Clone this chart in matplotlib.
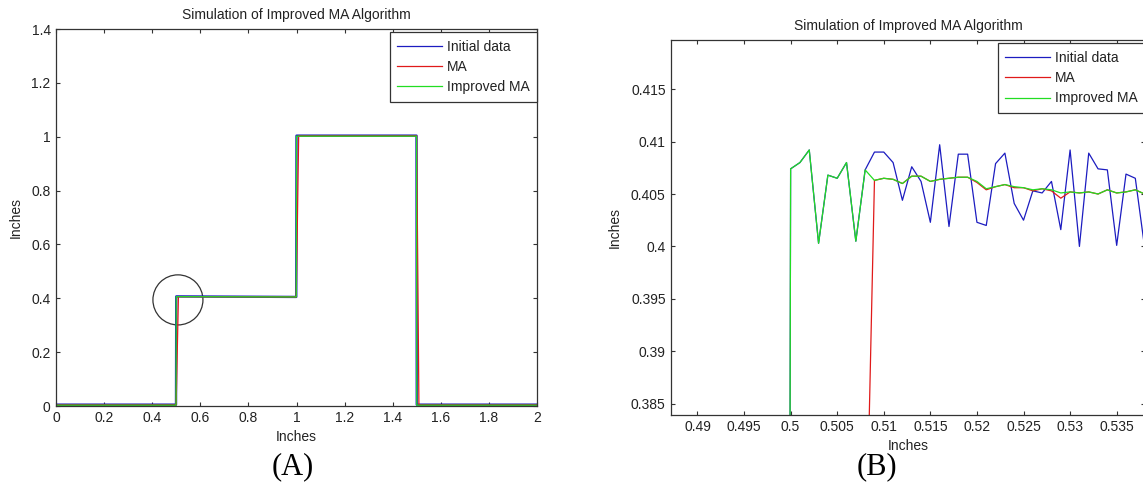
import numpy as np
import matplotlib
matplotlib.use("Agg")
import matplotlib.pyplot as plt
from matplotlib.patches import Ellipse
from matplotlib.lines import Line2D

plt.rcParams['font.family'] = ['Liberation Sans', 'DejaVu Sans']

# ---------------- data ----------------
title_text = "Simulation of Improved MA Algorithm"
series_names = ["Initial data", "MA", "Improved MA"]
colors = ["#1c1cc0", "#e01a1a", "#22dd22"]

# Panel A (full range): step profile key points
a_raw_x = [0.0, 0.499, 0.500, 0.999, 1.000, 1.499, 1.500, 2.000]
a_raw_y = [0.005, 0.005, 0.407, 0.405, 1.004, 1.004, 0.005, 0.005]
a_ma_x = [0.0, 0.4995, 0.509, 0.999, 1.009, 1.4995, 1.509, 2.000]
a_ma_y = [0.004, 0.004, 0.406, 0.405, 1.003, 1.003, 0.004, 0.004]
a_imp_x = [0.0, 0.499, 0.500, 0.999, 1.000, 1.499, 1.500, 2.000]
a_imp_y = [0.003, 0.003, 0.406, 0.405, 1.002, 1.002, 0.003, 0.003]

a_xticks = [0, 0.2, 0.4, 0.6, 0.8, 1.0, 1.2, 1.4, 1.6, 1.8, 2.0]
a_xticklabels = ["0", "0.2", "0.4", "0.6", "0.8", "1", "1.2", "1.4", "1.6", "1.8", "2"]
a_yticks = [0, 0.2, 0.4, 0.6, 0.8, 1.0, 1.2, 1.4]
a_yticklabels = ["0", "0.2", "0.4", "0.6", "0.8", "1", "1.2", "1.4"]

# Panel B (zoom near x = 0.5); samples every 0.001 starting at 0.499
b_x = np.round(0.499 + 0.001 * np.arange(41), 3)
b_raw = [0.002,
         0.4074, 0.4080, 0.4092, 0.4003, 0.4068, 0.4065, 0.4080, 0.4005, 0.4073, 0.4090,
         0.4090, 0.4080, 0.4044, 0.4076, 0.4062, 0.4023, 0.4097, 0.4019, 0.4088, 0.4088,
         0.4023, 0.4020, 0.4079, 0.4089, 0.4041, 0.4025, 0.4053, 0.4051, 0.4062, 0.4016,
         0.4092, 0.4000, 0.4089, 0.4074, 0.4073, 0.4001, 0.4069, 0.4065, 0.3999, 0.4070]
b_ma = [0.002,
        0.041, 0.082, 0.123, 0.163, 0.204, 0.244, 0.285, 0.326, 0.366, 0.4063,
        0.4065, 0.4064, 0.4060, 0.4067, 0.4067, 0.4062, 0.4064, 0.4065, 0.4066, 0.4066,
        0.4061, 0.4054, 0.4057, 0.4059, 0.4056, 0.4056, 0.4053, 0.4055, 0.4053, 0.4046,
        0.4052, 0.4051, 0.4052, 0.4050, 0.4054, 0.4051, 0.4052, 0.4054, 0.4050, 0.4051]
b_imp = [0.002,
         0.4074, 0.4080, 0.4092, 0.4003, 0.4068, 0.4065, 0.4080, 0.4005, 0.4073, 0.4063,
         0.4065, 0.4064, 0.4060, 0.4067, 0.4067, 0.4062, 0.4064, 0.4065, 0.4066, 0.4066,
         0.4062, 0.4055, 0.4057, 0.4059, 0.4057, 0.4056, 0.4054, 0.4055, 0.4054, 0.4051,
         0.4052, 0.4051, 0.4052, 0.4050, 0.4054, 0.4051, 0.4052, 0.4054, 0.4050, 0.4051]

b_xticks = [0.49, 0.495, 0.5, 0.505, 0.51, 0.515, 0.52, 0.525, 0.53, 0.535]
b_xticklabels = ["0.49", "0.495", "0.5", "0.505", "0.51", "0.515", "0.52", "0.525", "0.53", "0.535"]
b_yticks = [0.385, 0.39, 0.395, 0.4, 0.405, 0.41, 0.415]
b_yticklabels = ["0.385", "0.39", "0.395", "0.4", "0.405", "0.41", "0.415"]

# ---------------- figure ----------------
W, H = 1143, 492
fig = plt.figure(figsize=(W / 100, H / 100), dpi=100)
fig.patch.set_facecolor("white")

axA = fig.add_axes([56 / W, 1 - 406 / H, 481 / W, 377 / H])
axB = fig.add_axes([671 / W, 1 - 415 / H, 474 / W, 375 / H])

FS = 10
edge = "#333333"
txt = "#222222"


def style(ax):
    for s in ax.spines.values():
        s.set_color(edge)
        s.set_linewidth(0.9)
    ax.tick_params(direction="in", top=True, right=True, length=3.1, width=0.8,
                   color=edge, labelsize=FS, labelcolor=txt, pad=3.8)
    ax.set_title(title_text, fontsize=FS, color=txt, pad=7.5)
    ax.set_xlabel("Inches", fontsize=FS, color=txt, labelpad=3.5)
    ax.set_ylabel("Inches", fontsize=FS, color=txt, labelpad=6.5)


# Panel A
axA.plot(a_raw_x, a_raw_y, color=colors[0], lw=1.7)
axA.plot(a_ma_x, a_ma_y, color=colors[1], lw=0.9)
axA.plot(a_imp_x, a_imp_y, color=colors[2], lw=0.9)
axA.set_xlim(0, 2)
axA.set_ylim(0, 1.4)
axA.set_xticks(a_xticks)
axA.set_xticklabels(a_xticklabels)
axA.set_yticks(a_yticks)
axA.set_yticklabels(a_yticklabels)
axA.add_patch(Ellipse((0.507, 0.394), 0.208, 0.186, fill=False, edgecolor=edge, lw=0.9))
style(axA)

# Panel B
axB.plot(b_x, b_raw, color=colors[0], lw=0.9)
axB.plot(b_x, b_ma, color=colors[1], lw=0.9)
axB.plot(b_x, b_imp, color=colors[2], lw=0.9)
axB.set_xlim(0.48716, 0.53804)
axB.set_ylim(0.38392, 0.41969)
axB.set_xticks(b_xticks)
axB.set_xticklabels(b_xticklabels)
axB.set_yticks(b_yticks)
axB.set_yticklabels(b_yticklabels)
style(axB)

handles = [Line2D([], [], color=c, lw=0.9) for c in colors]
for ax, gap in ((axA, 3 / 377), (axB, 3.3 / 375)):
    leg = ax.legend(handles, series_names, loc="upper right",
                    bbox_to_anchor=(1.0, 1 - gap), borderaxespad=0,
                    fancybox=False, framealpha=1, edgecolor=edge, fontsize=FS,
                    handlelength=3.2, handletextpad=0.35, borderpad=0.55,
                    labelspacing=0.45)
    leg.get_frame().set_linewidth(0.9)
    for t in leg.get_texts():
        t.set_color(txt)

fig.text(293 / W, 1 - 467 / H, "(A)", ha="center", va="center", fontsize=22,
         family=["Liberation Serif", "DejaVu Serif"], color="black")
fig.text(877 / W, 1 - 467 / H, "(B)", ha="center", va="center", fontsize=22,
         family=["Liberation Serif", "DejaVu Serif"], color="black")

fig.savefig("out.png", dpi=100, facecolor="white")
